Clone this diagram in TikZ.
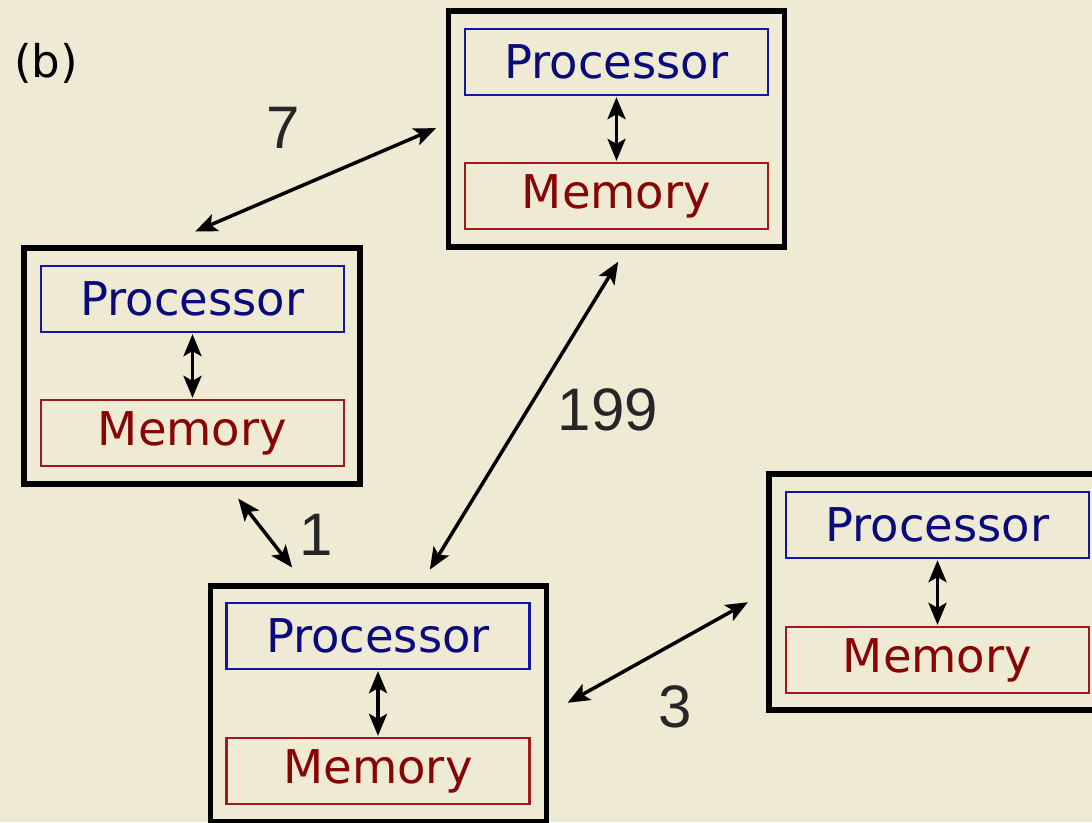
\documentclass[tikz,border=0pt]{standalone}
\usepackage{fontspec}
\setmainfont{DejaVu Sans}
\newfontfamily\numfont{Liberation Sans}
\usetikzlibrary{arrows.meta}
\definecolor{bgc}{RGB}{238,234,212}
\definecolor{procc}{RGB}{20,20,165}
\definecolor{proct}{RGB}{10,10,125}
\definecolor{memc}{RGB}{160,25,25}
\definecolor{memt}{RGB}{135,5,5}
\definecolor{numc}{RGB}{38,38,38}
\tikzset{
  unitbox/.style={draw=black, line width=5.5pt, minimum width=336pt, minimum height=236pt, inner sep=0pt},
  procbox/.style={draw=procc, line width=2.3pt, minimum width=303pt, minimum height=66pt, inner sep=0pt, text=proct, font=\fontsize{46.5}{54}\selectfont},
  membox/.style={draw=memc, line width=2.3pt, minimum width=303pt, minimum height=66pt, inner sep=0pt, text=memt, font=\fontsize{46.5}{54}\selectfont},
  link/.style={line width=3.5pt, >={Stealth[length=22pt,width=18pt,inset=5pt]}, <->},
  inlink/.style={link, shorten <=1pt, shorten >=1pt},
  numlab/.style={text=numc, font=\numfont\fontsize{60}{70}\selectfont, inner sep=0pt},
}
\begin{document}
\begin{tikzpicture}[x=1pt,y=-1pt]
\useasboundingbox (0,0) rectangle (1092,822);
\clip (0,0) rectangle (1092,822);
\fill[bgc] (0,0) rectangle (1092,822);

% top unit
\node[unitbox] (T) at (616.5,129) {};
\node[procbox] (Tp) at (616.5,62) {Processor};
\node[membox] (Tm) at (616.5,196) {Memory};
\draw[inlink] (Tp.south) -- (Tm.north);

% left unit
\node[unitbox] (L) at (192,366) {};
\node[procbox] (Lp) at (192.5,299) {Processor};
\node[membox] (Lm) at (192.5,433) {Memory};
\draw[inlink] (Lp.south) -- (Lm.north);

% bottom unit
\node[unitbox] (B) at (378.5,704) {};
\node[procbox] (Bp) at (378,636) {Processor};
\node[membox] (Bm) at (378,771) {Memory};
\draw[inlink] (Bp.south) -- (Bm.north);

% right unit
\node[unitbox] (R) at (937,592) {};
\node[procbox] (Rp) at (937.5,525) {Processor};
\node[membox] (Rm) at (937.5,660) {Memory};
\draw[inlink] (Rp.south) -- (Rm.north);

% connectors
\draw[link, shorten <=35pt, shorten >=10.5pt] ([xshift=-29pt]L.north) -- ([yshift=5pt]T.west);
\draw[link, shorten <=16pt, shorten >=14pt] ([xshift=43pt]B.north) -- ([xshift=9pt]T.south);
\draw[link, shorten <=15pt, shorten >=20pt] ([xshift=37pt]L.south) -- ([xshift=-74pt]B.north);
\draw[link, shorten <=21pt, shorten >=21pt] ([yshift=-9pt]B.east) -- (R.west);

% labels
\node[numlab] (n7) at (283,128) {7};
\node[numlab] (n199) at (608,410) {199};
\node[numlab] (n1) at (316,535) {1};
\node[numlab] (n3) at (675,707) {3};
\node[inner sep=0pt, font=\fontsize{45}{52}\selectfont, text=black] (lb) at (46,63) {(b)};
\end{tikzpicture}
\end{document}
